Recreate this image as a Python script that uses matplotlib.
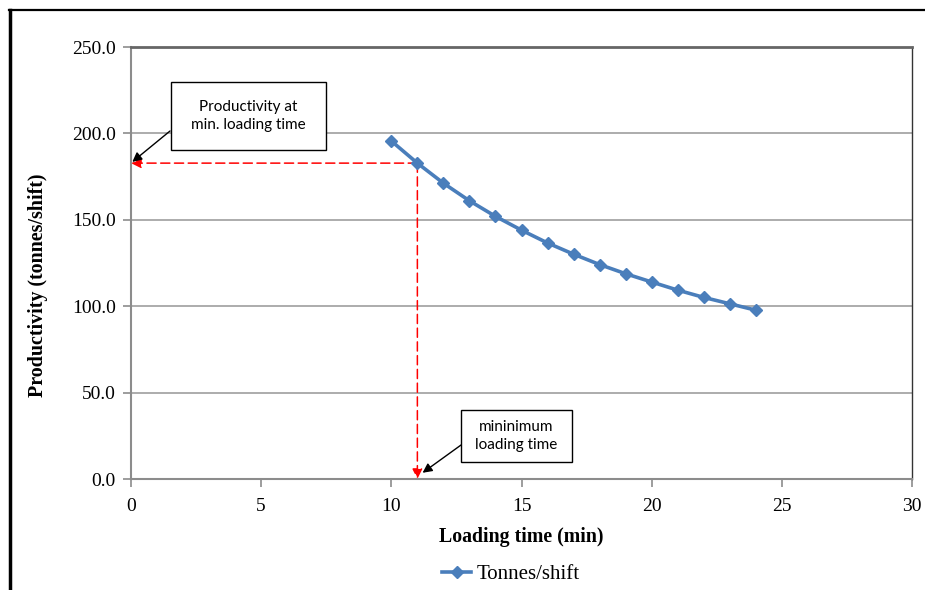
import matplotlib
matplotlib.use("Agg")
import matplotlib.pyplot as plt
from matplotlib.lines import Line2D
from matplotlib.patches import Rectangle
from matplotlib.ticker import FormatStrFormatter

# Productivity versus loading time
loading_time = [10, 11, 12, 13, 14, 15, 16, 17, 18, 19, 20, 21, 22, 23, 24]
tonnes_per_shift = [195.6, 182.8, 171.2, 161.0, 152.0, 144.0, 136.6, 130.1,
                    124.1, 118.8, 114.0, 109.3, 105.1, 101.4, 97.7]
series_name = "Tonnes/shift"

x_ticks = [0, 5, 10, 15, 20, 25, 30]
y_ticks = [0, 50, 100, 150, 200, 250]

min_time = loading_time[1]
min_prod = tonnes_per_shift[1]

box_prod_text = "Productivity at\nmin. loading time"
box_time_text = "mininimum\nloading time"

serif = "Liberation Serif"
sans = "Lato"
line_blue = "#4a7ebb"

fig = plt.figure(figsize=(9.25, 5.9), dpi=100)
ax = fig.add_axes([131 / 925, 1 - 479 / 590, (912 - 131) / 925, (479 - 47) / 590])

ax.plot(loading_time, tonnes_per_shift, color=line_blue, lw=2.6, marker="D",
        ms=6, mfc=line_blue, mec=line_blue, zorder=5, label=series_name)

ax.set_xlim(0, 30)
ax.set_ylim(0, 250)
ax.set_xticks(x_ticks)
ax.set_yticks(y_ticks)
ax.yaxis.set_major_formatter(FormatStrFormatter("%.1f"))
ax.grid(axis="y", color="#a6a6a6", lw=1.3)
ax.set_axisbelow(True)

for side in ("left", "bottom"):
    ax.spines[side].set_color("#8c8c8c")
    ax.spines[side].set_linewidth(1.5)
ax.spines["top"].set_color("#666666")
ax.spines["top"].set_linewidth(2)
ax.spines["right"].set_color("#333333")
ax.spines["right"].set_linewidth(1)
ax.tick_params(axis="both", direction="out", color="#8c8c8c", width=1.2,
               length=6, labelsize=14, pad=5)
for lab in ax.get_xticklabels() + ax.get_yticklabels():
    lab.set_fontfamily(serif)
ax.tick_params(axis="x", pad=8)

ax.set_xlabel("Loading time (min)", fontfamily=serif, fontweight="bold",
              fontsize=14.3, labelpad=8)
ax.set_ylabel("Productivity (tonnes/shift)", fontfamily=serif, fontweight="bold",
              fontsize=14.4, va="center")
ax.yaxis.set_label_coords(-0.119, 0.449)

# Dashed red guides from the minimum loading time point
red_props = dict(arrowstyle="-|>", color="#ff0000", lw=1.1, linestyle=(0, (6, 3)),
                 mutation_scale=15, shrinkA=0, shrinkB=0)
ax.annotate("", xy=(0, min_prod), xytext=(min_time, min_prod),
            arrowprops=red_props, annotation_clip=False, zorder=4)
ax.annotate("", xy=(min_time, 0), xytext=(min_time, min_prod),
            arrowprops=red_props, annotation_clip=False, zorder=4)

# Callout boxes
def callout(x0, x1, y0, y1, text, tail, head):
    ax.add_patch(Rectangle((x0, y0), x1 - x0, y1 - y0, fc="white", ec="black",
                           lw=1.0, zorder=6, clip_on=False))
    ax.text((x0 + x1) / 2, (y0 + y1) / 2, text, ha="center", va="center",
            fontfamily=sans, fontsize=11, linespacing=1.35, zorder=7)
    ax.annotate("", xy=head, xytext=tail,
                arrowprops=dict(arrowstyle="-|>", color="black", lw=1.0,
                                mutation_scale=14, shrinkA=0, shrinkB=0),
                annotation_clip=False, zorder=6)

callout(1.54, 7.49, 190.4, 229.7, box_prod_text, (1.5, 201.4), (0.05, 183.5))
callout(12.68, 16.94, 9.8, 39.9, box_time_text, (12.68, 19.7), (11.2, 3.6))

leg = fig.legend(loc="center", bbox_to_anchor=(511 / 925, 1 - 574 / 590),
                 frameon=False, prop={"family": serif, "size": 15},
                 handlelength=1.4, handletextpad=0.25)

# Outer frame edges
fig.add_artist(Line2D([9.5 / 925, 9.5 / 925], [0, 1 - 10 / 590],
                      transform=fig.transFigure, color="black", lw=2.5))
fig.add_artist(Line2D([8.5 / 925, 1], [1 - 10 / 590, 1 - 10 / 590],
                      transform=fig.transFigure, color="black", lw=1.6))

fig.savefig("out.png", dpi=100, facecolor="white")
